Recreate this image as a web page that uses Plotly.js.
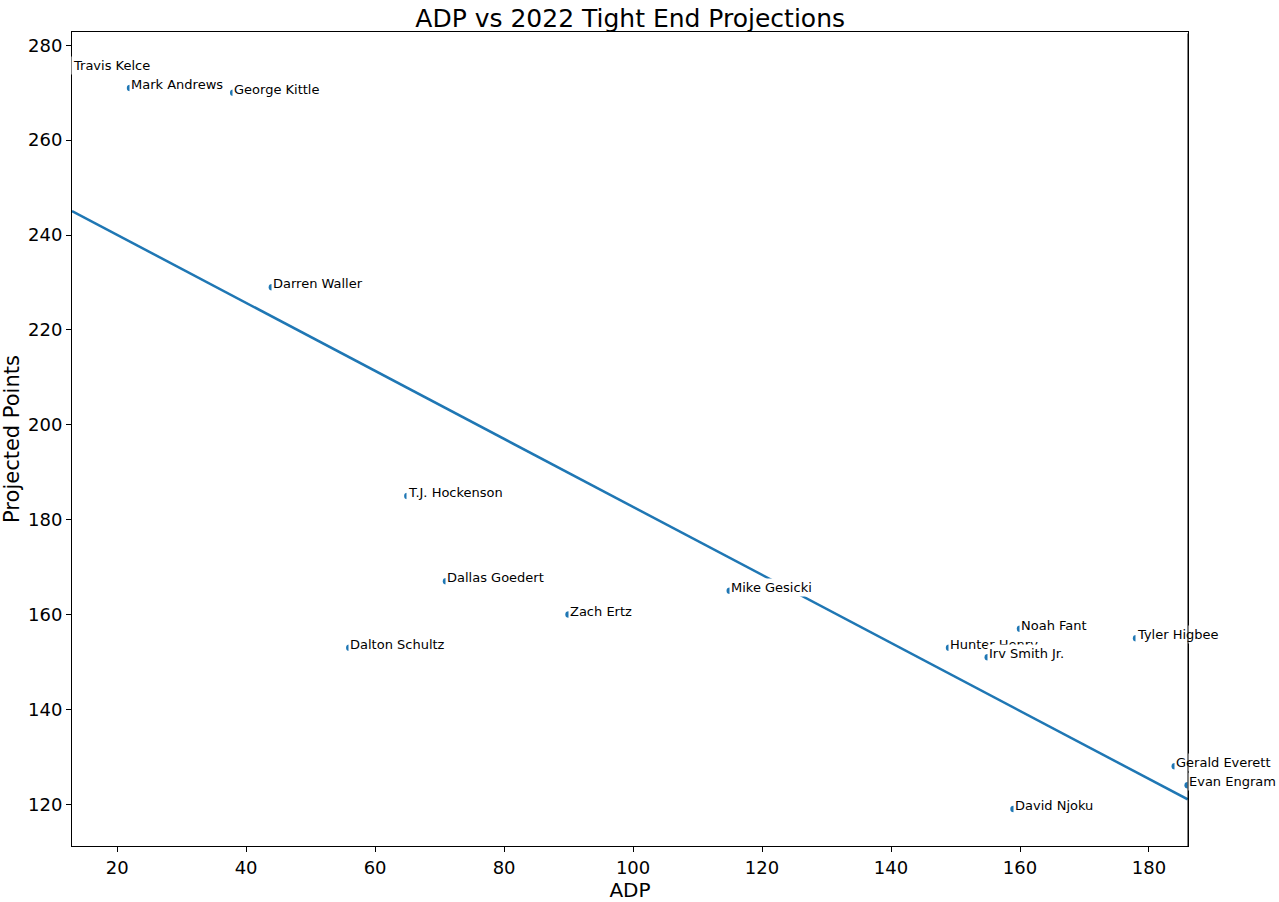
<!DOCTYPE html>
<html>
<head>
<meta charset="utf-8">
<script src="https://cdn.plot.ly/plotly-3.0.1.min.js"></script>
<style>html,body{margin:0;padding:0;background:#fff;}#chart{width:1279px;height:902px;}</style>
</head>
<body>
<div id="chart"></div>
<script>
const players = ["Travis Kelce","Mark Andrews","George Kittle","Darren Waller","T.J. Hockenson","Dallas Goedert","Dalton Schultz","Zach Ertz","Mike Gesicki","Hunter Henry","Noah Fant","Irv Smith Jr.","Tyler Higbee","Gerald Everett","Evan Engram","David Njoku"];
const adp = [13,22,38,44,65,71,56,90,115,149,160,155,178,184,186,159];
const projPoints = [275,271,270,229,185,167,153,160,165,153,157,151,155,128,124,119];
const xTicks = [20,40,60,80,100,120,140,160,180];
const yTicks = [120,140,160,180,200,220,240,260,280];

// least-squares fit
const n = adp.length;
const mx = adp.reduce((a,b)=>a+b,0)/n;
const my = projPoints.reduce((a,b)=>a+b,0)/n;
let sxy=0, sxx=0;
for(let i=0;i<n;i++){sxy+=(adp[i]-mx)*(projPoints[i]-my); sxx+=(adp[i]-mx)**2;}
const slope = sxy/sxx, intercept = my - slope*mx;
const xmin = Math.min(...adp), xmax = Math.max(...adp);
const ymin = Math.min(...projPoints), ymax = Math.max(...projPoints);
const ypad = (ymax-ymin)*0.05;
const fitX = [xmin, xmax];
const fitY = fitX.map(x=>intercept+slope*x);

const blue = '#1f77b4';
const traces = [
  {x: adp, y: projPoints, mode:'markers', type:'scatter',
   marker:{color:blue, size:6.5}, hoverinfo:'skip', showlegend:false},
  {x: fitX, y: fitY, mode:'lines', type:'scatter',
   line:{color:blue, width:2.5}, hoverinfo:'skip', showlegend:false}
];

const annotations = players.map((p,i)=>({
  x: adp[i], y: projPoints[i], xref:'x', yref:'y', text:p, showarrow:false,
  xanchor:'left', yanchor:'bottom', yshift:-6, xshift:-1,
  font:{family:'DejaVu Sans', size:13, color:'#000'},
  bgcolor:'#ffffff', borderpad:1
}));
// right spine drawn above label boxes
annotations.push({xref:'paper', yref:'paper', x:1, y:0, axref:'pixel', ayref:'pixel', ax:0, ay:-814,
  text:'', showarrow:true, arrowhead:0, arrowwidth:1, arrowcolor:'#000', standoff:0, startstandoff:0});

const layout = {
  width:1279, height:902,
  margin:{l:72, r:91, t:32, b:56},
  paper_bgcolor:'#fff', plot_bgcolor:'#fff',
  font:{family:'DejaVu Sans', color:'#000'},
  title:{text:'ADP vs 2022 Tight End Projections', font:{size:25, color:'#000'},
         x:0.4927, xanchor:'center', y:0.98, yanchor:'middle'},
  xaxis:{range:[xmin, xmax+0.05], tickvals:xTicks, ticktext:xTicks.map(String),
         showgrid:false, zeroline:false, showline:true, mirror:true, linecolor:'#000', linewidth:1,
         ticks:'outside', ticklen:5, tickcolor:'#000', tickfont:{size:18},
         title:{text:'ADP', font:{size:20}, standoff:4}},
  yaxis:{range:[ymin-ypad, ymax+ypad], tickvals:yTicks, ticktext:yTicks.map(String),
         showgrid:false, zeroline:false, showline:true, mirror:true, linecolor:'#000', linewidth:1,
         ticks:'outside', ticklen:5, tickcolor:'#000', tickfont:{size:18},
         title:{text:'Projected Points', font:{size:21}, standoff:6}},
  annotations: annotations
};
Plotly.newPlot('chart', traces, layout, {displayModeBar:false, staticPlot:true});
</script>
</body>
</html>
